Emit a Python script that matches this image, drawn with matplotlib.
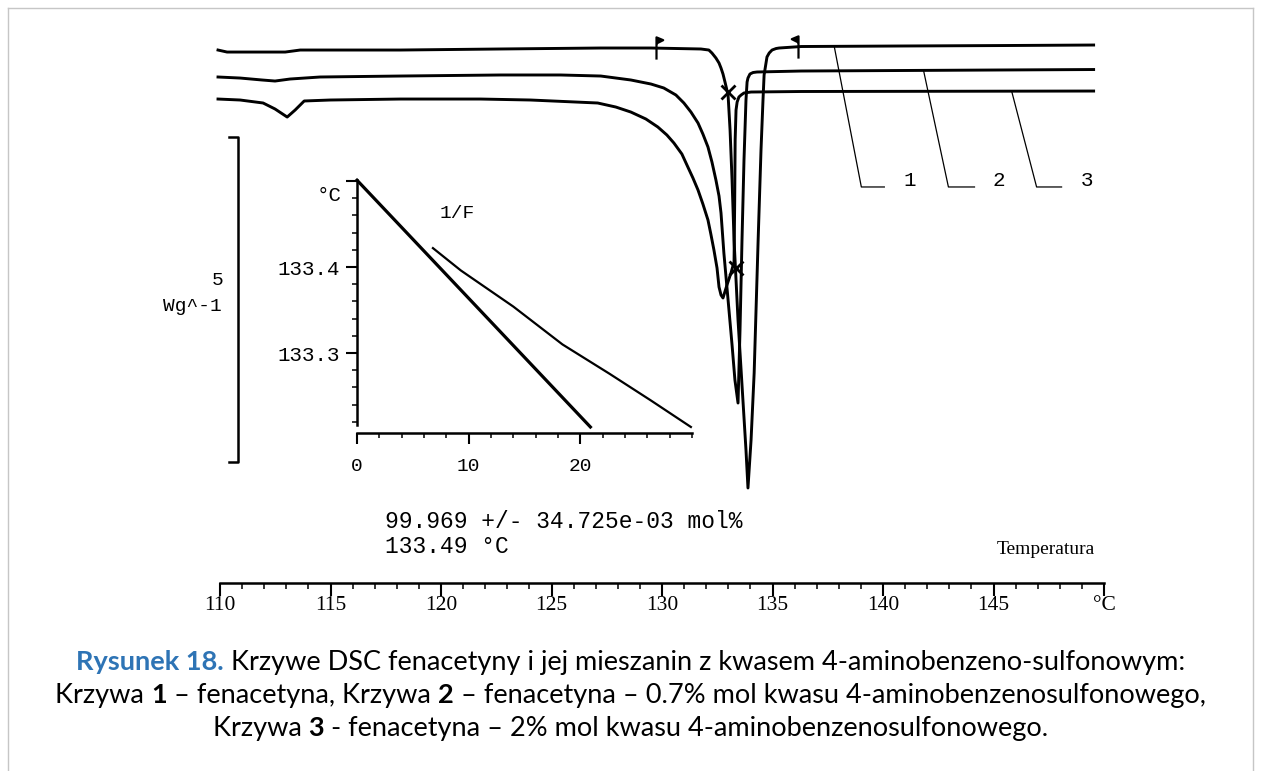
import matplotlib
matplotlib.use("Agg")
import matplotlib.pyplot as plt
from matplotlib.ticker import MultipleLocator, FixedLocator
from matplotlib.lines import Line2D
from matplotlib.path import Path

# ---------------- data ----------------
# DSC curves: temperature (deg C) and heat flow (W/g, arbitrary offset, endo down)
t1 = [109.91, 110.32, 112.95, 113.63, 118.16, 122.69, 127.23, 129.50, 131.76, 132.12,
      132.26, 132.44, 132.58, 132.67, 132.76, 132.85, 132.99, 133.08, 133.17, 133.26,
      133.44, 133.67, 133.80, 133.89, 134.03, 134.17, 134.35, 134.48, 134.57, 134.62,
      134.75, 134.85, 134.98, 135.16, 135.30, 136.30, 140.83, 145.36, 149.53]
h1 = [-0.031, -0.062, -0.062, -0.031, -0.031, -0.015, 0.0, 0.0, -0.015, -0.031,
      -0.077, -0.154, -0.231, -0.308, -0.4, -0.523, -0.723, -1.262, -2.031, -2.954,
      -4.185, -5.462, -6.185, -6.769, -6.031, -5.0, -2.954, -1.569, -0.8, -0.415,
      -0.138, -0.077, -0.031, -0.008, 0.0, 0.023, 0.031, 0.038, 0.046]

t2 = [109.91, 110.91, 111.90, 112.49, 113.17, 114.53, 118.16, 122.69, 125.41, 127.23,
      128.59, 129.50, 130.08, 130.63, 130.99, 131.31, 131.63, 131.85, 132.08, 132.26,
      132.44, 132.58, 132.67, 132.80, 132.99, 133.17, 133.30, 133.44, 133.53, 133.62,
      133.71, 133.80, 133.85, 133.89, 133.98, 134.12, 134.30, 136.30, 140.83, 145.36,
      149.53]
h2 = [-0.446, -0.462, -0.492, -0.508, -0.477, -0.446, -0.431, -0.415, -0.415, -0.431,
      -0.492, -0.554, -0.615, -0.723, -0.846, -0.985, -1.154, -1.323, -1.523, -1.754,
      -2.031, -2.277, -2.538, -3.154, -3.877, -4.569, -5.108, -5.462, -4.338, -2.954,
      -1.723, -0.8, -0.523, -0.462, -0.4, -0.377, -0.369, -0.354, -0.346, -0.338,
      -0.331]

t3 = [109.91, 110.91, 111.95, 112.49, 113.04, 113.40, 113.81, 114.99, 118.16, 121.79,
      124.05, 127.09, 127.91, 128.59, 129.27, 129.81, 130.22, 130.54, 130.90, 131.17,
      131.40, 131.63, 131.85, 132.08, 132.21, 132.35, 132.49, 132.58, 132.67, 132.76,
      132.94, 133.12, 133.26, 133.29, 133.31, 133.35, 133.40, 133.48, 133.58, 133.71,
      134.03, 136.30, 149.53]
h3 = [-0.785, -0.8, -0.846, -0.938, -1.062, -0.954, -0.815, -0.8, -0.785, -0.785,
      -0.8, -0.846, -0.908, -0.985, -1.092, -1.215, -1.338, -1.462, -1.631, -1.831,
      -2.0, -2.185, -2.4, -2.646, -2.862, -3.108, -3.385, -3.677, -3.8, -3.846,
      -3.646, -3.462, -3.292, -2.338, -1.415, -0.954, -0.831, -0.754, -0.723, -0.692,
      -0.677, -0.669, -0.662]

# integration limit flags (curve 1) and onset crosses
flag_t = [129.72, 136.16]
flag_h = [0.0, 0.023]
cross_t = [132.99, 133.35]
cross_h = [-0.677, -3.385]

# curve leader lines and labels
lead_labels = ["1", "2", "3"]
lead_t0 = [137.79, 141.83, 145.82]
lead_h0 = [0.031, -0.338, -0.662]
lead_t1 = [139.02, 142.96, 146.95]
lead_t2 = [140.06, 144.14, 148.08]
lead_h1 = -2.138
lab_t = [141.19, 145.23, 149.22]

# scale bar 5 W/g
bar_t = 110.82
bar_top = -1.369
bar_len = 5.0

# main axis ticks
xt_major = [110, 115, 120, 125, 130, 135, 140, 145, 150]
xt_labels = ["110", "115", "120", "125", "130", "135", "140", "145", "°C"]

# inset: purity determination (T vs 1/F)
fit_x = [0.0, 20.9]
fit_y = [133.501, 133.214]
meas_x = [6.8, 9.3, 14.0, 18.4, 22.6, 26.3, 29.9]
meas_y = [133.422, 133.396, 133.354, 133.31, 133.276, 133.245, 133.214]
in_xt = [0, 10, 20]
in_yt = [133.3, 133.4, 133.5]
in_ylab = ["133.3", "133.4", ""]

purity_txt = "99.969 +/- 34.725e-03 mol%"
tm_txt = "133.49 °C"

caption = [
    [("Rysunek 18.", "bold", "#2E74B5"),
     (" Krzywe DSC fenacetyny i jej mieszanin z kwasem 4-aminobenzeno-sulfonowym:", "normal", "black")],
    [("Krzywa ", "normal", "black"), ("1", "bold", "black"),
     (" – fenacetyna, Krzywa ", "normal", "black"), ("2", "bold", "black"),
     (" – fenacetyna – 0.7% mol kwasu 4-aminobenzenosulfonowego,", "normal", "black")],
    [("Krzywa ", "normal", "black"), ("3", "bold", "black"),
     (" - fenacetyna – 2% mol kwasu 4-aminobenzenosulfonowego.", "normal", "black")],
]

# ---------------- figure ----------------
W, H = 1261, 771
fig = plt.figure(figsize=(W / 100, H / 100), dpi=100)
fig.patch.set_facecolor("white")

def fx(px):
    return px / W

def fy(py):
    return 1 - py / H

MONO = "Liberation Mono"

# page border
for xs, ys in (([8, 8], [H, 8]), ([8, 1253], [8, 8]), ([1253, 1253], [8, H])):
    fig.add_artist(Line2D([fx(v) for v in xs], [fy(v) for v in ys],
                          transform=fig.transFigure, color="#c6c6c6", lw=1.0))

# main axes
ax = fig.add_axes([fx(220), fy(583), (1104 - 220) / W, (583 - 20) / H])
ax.patch.set_visible(False)
ax.set_xlim(110, 150)
ax.set_ylim(-8.231, 0.431)
for s in ("left", "right", "top"):
    ax.spines[s].set_visible(False)
ax.spines["bottom"].set_linewidth(1.8)
ax.set_yticks([])
ax.xaxis.set_major_locator(FixedLocator(xt_major))
ax.set_xticklabels(xt_labels, family="Liberation Serif", fontsize=15.5)
ax.xaxis.set_minor_locator(MultipleLocator(1))
ax.tick_params(axis="x", which="major", direction="out", length=9, width=1.5, pad=0)
ax.tick_params(axis="x", which="minor", direction="out", length=4, width=1.1)

lw_c = 2.1
for t, h in ((t1, h1), (t2, h2), (t3, h3)):
    ax.plot(t, h, color="black", lw=lw_c, clip_on=False, solid_joinstyle="round")

flag_r = Path([(0, -1), (0, 1), (0.6, 0.75), (0, 0.45)],
              [Path.MOVETO, Path.LINETO, Path.LINETO, Path.LINETO])
flag_l = Path([(0, -1), (0, 1), (-0.6, 0.75), (0, 0.45)],
              [Path.MOVETO, Path.LINETO, Path.LINETO, Path.LINETO])
ax.plot([flag_t[0]], [flag_h[0]], marker=flag_r, ms=16, color="black", mew=1.6, ls="none", clip_on=False)
ax.plot([flag_t[1]], [flag_h[1]], marker=flag_l, ms=16, color="black", mew=1.6, ls="none", clip_on=False)
ax.plot(cross_t, cross_h, marker="x", ms=10, mew=2.0, color="black", ls="none", clip_on=False)

for i in range(3):
    ax.plot([lead_t0[i], lead_t1[i], lead_t2[i]], [lead_h0[i], lead_h1, lead_h1],
            color="black", lw=0.9, clip_on=False)
    ax.text(lab_t[i], lead_h1 + 0.1, lead_labels[i], family=MONO, fontsize=15,
            ha="center", va="center")

# scale bar
ax.plot([bar_t - 0.4, bar_t, bar_t, bar_t - 0.4],
        [bar_top, bar_top, bar_top - bar_len, bar_top - bar_len],
        color="black", lw=1.8, clip_on=False)
ax.text(109.91, -3.57, "5", family=MONO, fontsize=14, ha="center", va="center")
ax.text(110.1, -3.97, "Wg^-1", family=MONO, fontsize=14, ha="right", va="center")

ax.text(117.48, -7.292, purity_txt, family=MONO, fontsize=16.5, ha="left", va="center")
ax.text(117.48, -7.662, tm_txt, family=MONO, fontsize=16.5, ha="left", va="center")
ax.text(145.14, -7.723, "Temperatura", family="Liberation Serif", fontsize=14,
        ha="left", va="center")

# inset
axi = fig.add_axes([fx(357), fy(433), (692 - 357) / W, (433 - 180) / H])
axi.patch.set_visible(False)
axi.set_xlim(0, 30)
axi.set_ylim(133.207, 133.5012)
axi.spines["right"].set_visible(False)
axi.spines["top"].set_visible(False)
axi.spines["left"].set_bounds(133.2163, 133.5012)
axi.spines["left"].set_linewidth(1.8)
axi.spines["bottom"].set_linewidth(1.8)
axi.xaxis.set_major_locator(FixedLocator(in_xt))
axi.xaxis.set_minor_locator(MultipleLocator(2))
axi.yaxis.set_major_locator(FixedLocator(in_yt))
axi.yaxis.set_minor_locator(MultipleLocator(0.02))
axi.set_xticklabels([str(v) for v in in_xt], family=MONO, fontsize=14)
axi.set_yticklabels(in_ylab, family=MONO, fontsize=15)
axi.tick_params(which="major", direction="out", length=8, width=1.5)
axi.tick_params(axis="x", which="major", pad=10)
axi.tick_params(axis="y", which="major", pad=4)
axi.tick_params(which="minor", direction="out", length=3.5, width=1.1)

axi.plot(fit_x, fit_y, color="black", lw=2.3, clip_on=False)
axi.plot(meas_x, meas_y, color="black", lw=1.6, clip_on=False)
axi.text(-1.4, 133.483, "°C", family=MONO, fontsize=15, ha="right", va="center")
axi.text(9.0, 133.462, "1/F", family=MONO, fontsize=14, ha="center", va="center")

# caption with mixed styles
CAP_FONT = "Lato"
CAP_SIZE = 19.5
renderer = fig.canvas.get_renderer()

def measure(s, weight):
    a = fig.text(0, 0, "|" + s + "|", family=CAP_FONT, fontsize=CAP_SIZE, weight=weight)
    b = fig.text(0, 0, "||", family=CAP_FONT, fontsize=CAP_SIZE, weight=weight)
    w = a.get_window_extent(renderer).width - b.get_window_extent(renderer).width
    a.remove()
    b.remove()
    return w

baselines = [670, 703, 736]
for line, base in zip(caption, baselines):
    widths = [measure(s, wgt) for s, wgt, c in line]
    x = (W - sum(widths)) / 2
    for (s, wgt, c), w in zip(line, widths):
        fig.text(fx(x), fy(base), s, family=CAP_FONT, fontsize=CAP_SIZE, weight=wgt,
                 color=c, ha="left", va="baseline")
        x += w

fig.savefig("out.png", dpi=100, facecolor="white")
